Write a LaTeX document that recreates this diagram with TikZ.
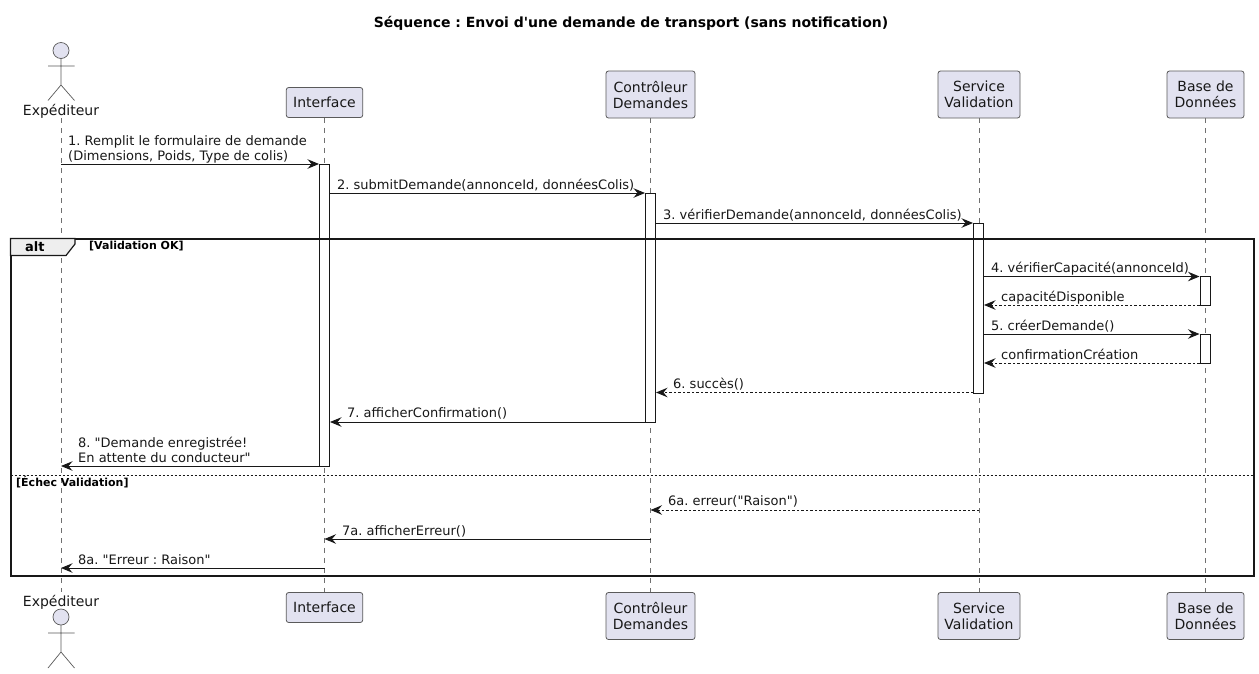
\documentclass[tikz,border=0pt]{standalone}
\usepackage{fontspec}
\defaultfontfeatures[\rmfamily]{}
\setmainfont{DejaVu Sans}
\usetikzlibrary{arrows.meta}
\definecolor{partfill}{HTML}{E2E2F0}
\definecolor{partline}{HTML}{5A5A5A}
\definecolor{lifec}{HTML}{707070}
\definecolor{tabfill}{HTML}{EEEEEE}
\definecolor{inkc}{HTML}{181818}
\tikzset{
  part/.style={draw=partline,fill=partfill,rounded corners=2.5pt,line width=0.8pt,align=center,inner sep=0pt,
    font=\fontsize{14}{16}\selectfont,text=inkc},
  actorlabel/.style={inner sep=0pt,font=\fontsize{14}{16}\selectfont,text=inkc},
  actorline/.style={draw=partline,line width=0.7pt},
  lifeline/.style={draw=lifec,line width=0.7pt,dash pattern=on 5pt off 5pt},
  activation/.style={draw=inkc,fill=white,line width=1pt,minimum width=10pt,inner sep=0pt},
  msg/.style={draw=inkc,line width=1pt,-{Stealth[length=11.5pt,width=9.5pt,inset=4pt]}},
  ret/.style={msg,dash pattern=on 2.5pt off 2pt},
  lbl/.style={anchor=base west,inner sep=0pt,align=left,font=\fontsize{13}{15}\selectfont,text=inkc},
  frameline/.style={draw=inkc,line width=2pt},
  guard/.style={anchor=base west,inner sep=0pt,font=\bfseries\fontsize{11}{13}\selectfont,text=black},
}
\begin{document}
\frenchspacing
\begin{tikzpicture}[x=1pt,y=-1pt]
\useasboundingbox[fill=white] (0,0) rectangle (1259,673);
\node[anchor=base,inner sep=0pt,font=\bfseries\fontsize{14}{16}\selectfont] (title) at (631,27) {Séquence : Envoi d'une demande de transport (sans notification)};
% participants
\coordinate (expT) at (61,118);
\coordinate (expB) at (61,592);
\node[part,minimum width=76.5pt,minimum height=30pt] (ifcT) at (324.5,102.5) {Interface};
\node[part,minimum width=76.5pt,minimum height=30pt] (ifcB) at (324.5,607.5) {Interface};
\node[part,minimum width=89pt,minimum height=47pt] (ctlT) at (650.5,94.5) {Contrôleur\\Demandes};
\node[part,minimum width=89pt,minimum height=47pt] (ctlB) at (650.5,616) {Contrôleur\\Demandes};
\node[part,minimum width=82pt,minimum height=47pt] (svcT) at (979,94.5) {Service\\Validation};
\node[part,minimum width=82pt,minimum height=47pt] (svcB) at (979,616) {Service\\Validation};
\node[part,minimum width=77pt,minimum height=47pt] (dbT) at (1205.5,94.5) {Base de\\Données};
\node[part,minimum width=77pt,minimum height=47pt] (dbB) at (1205.5,616) {Base de\\Données};
% actors
\node[actorlabel,anchor=base] (expLT) at (61,115) {Expéditeur};
\node[actorlabel,anchor=base] (expLB) at (61,606) {Expéditeur};
\draw[actorline,fill=partfill] (61,50.5) circle (8);
\draw[actorline] (61,58.5) -- (61,85) (48,66) -- (74.5,66) (48,100.5) -- (61,85) -- (74.5,100.5);
\draw[actorline,fill=partfill] (61,617) circle (8);
\draw[actorline] (61,625) -- (61,652) (48,633) -- (74.5,633) (48,668) -- (61,652) -- (74.5,668);
% lifelines
\draw[lifeline] (expT) -- (expB);
\draw[lifeline] (ifcT) -- (ifcB);
\draw[lifeline] (ctlT) -- (ctlB);
\draw[lifeline] (svcT) -- (svcB);
\draw[lifeline] (dbT) -- (dbB);
% activations
\node[activation,minimum height=302pt] (ifcA) at (324.5,315) {};
\node[activation,minimum height=229pt] (ctlA) at (650.5,307.5) {};
\node[activation,minimum height=170pt] (svcA) at (978.5,308) {};
\node[activation,minimum height=29pt] (dbA1) at (1205,290.5) {};
\node[activation,minimum height=29pt] (dbA2) at (1205,348.5) {};
% frame
\draw[frameline] (10.5,238.5) rectangle (1254,576);
\draw[frameline,fill=tabfill,line width=1.2pt] (10.5,238.5) -- (75,238.5) -- (75,244) -- (66,255.5) -- (10.5,255.5) -- cycle;
\node[anchor=base west,inner sep=0pt,font=\bfseries\fontsize{13}{15}\selectfont] (altL) at (25,251) {alt};
\node[guard] (g1) at (89,249) {[Validation OK]};
\draw[draw=inkc,line width=0.8pt,dash pattern=on 2pt off 2pt] (10.5,475) -- (1254,475);
\node[guard] (g2) at (16,486) {[Échec Validation]};
% messages
\draw[msg] (expT |- 0,164) -- (ifcA.west |- 0,164);
\node[lbl] (m1) at (68,160) {1. Remplit le formulaire de demande\\(Dimensions, Poids, Type de colis)};
\draw[msg] (ifcA.east |- 0,193) -- (ctlA.west |- 0,193);
\node[lbl] (m2) at (337,189) {2. submitDemande(annonceId, donnéesColis)};
\draw[msg] (ctlA.east |- 0,223) -- (svcA.west |- 0,223);
\node[lbl] (m3) at (663,219) {3. vérifierDemande(annonceId, donnéesColis)};
\draw[msg] (svcA.east |- 0,276.5) -- (dbA1.west |- 0,276.5);
\node[lbl] (m4) at (991,272) {4. vérifierCapacité(annonceId)};
\draw[ret] (dbA1.west |- 0,305) -- (svcA.east |- 0,305);
\node[lbl] (m4r) at (1001,301) {capacitéDisponible};
\draw[msg] (svcA.east |- 0,334) -- (dbA2.west |- 0,334);
\node[lbl] (m5) at (991,330) {5. créerDemande()};
\draw[ret] (dbA2.west |- 0,363) -- (svcA.east |- 0,363);
\node[lbl] (m5r) at (1001,359) {confirmationCréation};
\draw[ret] (svcA.west |- 0,392.5) -- (ctlA.east |- 0,392.5);
\node[lbl] (m6) at (673,388.5) {6. succès()};
\draw[msg] (ctlA.west |- 0,422) -- (ifcA.east |- 0,422);
\node[lbl] (m7) at (347,417.5) {7. afficherConfirmation()};
\draw[msg] (ifcA.west |- 0,466) -- (expT |- 0,466);
\node[lbl] (m8) at (78,462) {8. "Demande enregistrée!\\En attente du conducteur"};
\draw[ret] (svcT |- 0,510) -- (ctlT |- 0,510);
\node[lbl] (m6a) at (668,505) {6a. erreur("Raison")};
\draw[msg] (ctlT |- 0,539) -- (ifcT |- 0,539);
\node[lbl] (m7a) at (342,535) {7a. afficherErreur()};
\draw[msg] (ifcT |- 0,568) -- (expT |- 0,568);
\node[lbl] (m8a) at (78,564) {8a. "Erreur : Raison"};
\end{tikzpicture}
\end{document}
